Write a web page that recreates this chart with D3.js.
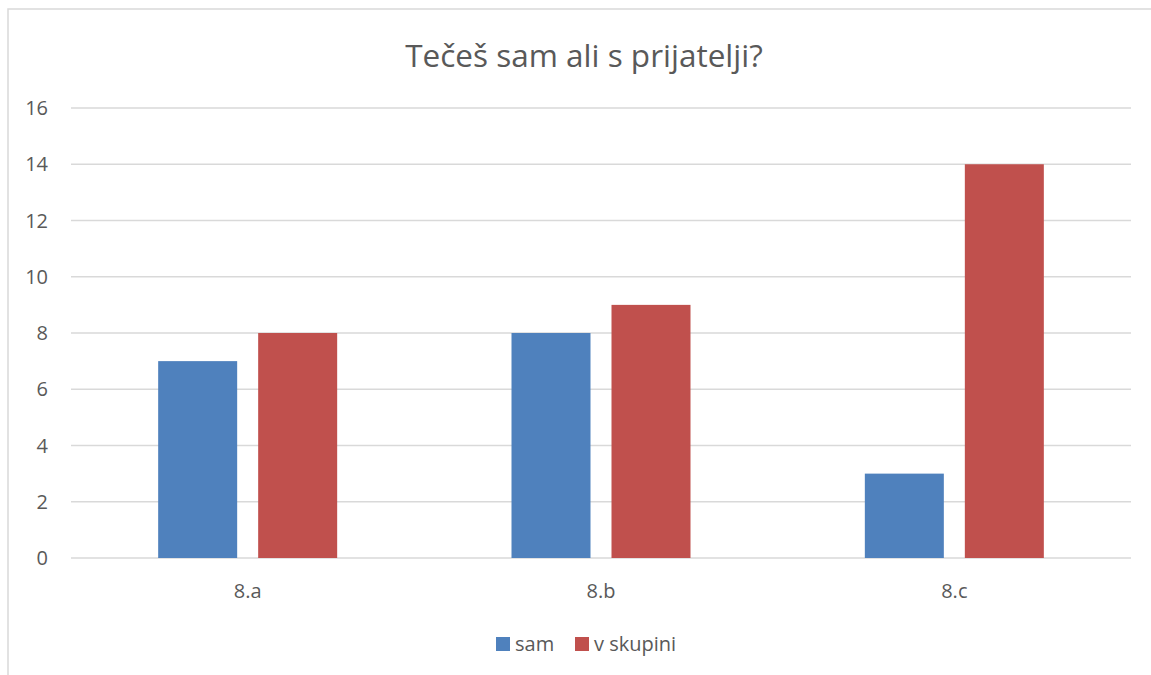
<!DOCTYPE html>
<html>
<head>
<meta charset="utf-8">
<script src="https://cdn.jsdelivr.net/npm/d3@7"></script>
<style>
  body { margin: 0; background: #fff; }
  text { font-family: "Open Sans", "Noto Sans", sans-serif; fill: #595959; }
</style>
</head>
<body>
<div id="chart"></div>
<script>
const categories = ["8.a", "8.b", "8.c"]
const seriesNames = ["sam", "v skupini"]
const samValues = [7, 8, 3]
const skupiniValues = [8, 9, 14]
const yTicks = [0, 2, 4, 6, 8, 10, 12, 14, 16]
const colors = ["#4F81BD", "#C0504D"]

const WIDTH = 1151, HEIGHT = 675
const PLOT = { LEFT: 71, RIGHT: 1131, TOP: 108, BOTTOM: 558 }

const svg = d3.select("#chart").append("svg")
  .attr("width", WIDTH)
  .attr("height", HEIGHT)

// chart frame (only left & top edges visible in the crop)
svg.append("rect")
  .attr("x", 8).attr("y", 9)
  .attr("width", WIDTH).attr("height", HEIGHT)
  .attr("fill", "none")
  .attr("stroke", "#d9d9d9")
  .attr("stroke-width", 1.5)

svg.append("text")
  .attr("x", 584).attr("y", 67)
  .attr("text-anchor", "middle")
  .attr("font-size", 31.5)
  .text("Tečeš sam ali s prijatelji?")

const x = d3.scaleBand()
  .domain(categories)
  .range([PLOT.LEFT, PLOT.RIGHT])

const y = d3.scaleLinear()
  .domain([0, 16])
  .range([PLOT.BOTTOM, PLOT.TOP])

// gridlines
svg.append("g")
  .selectAll("line")
  .data(yTicks)
  .join("line")
    .attr("x1", PLOT.LEFT).attr("x2", PLOT.RIGHT)
    .attr("y1", d => y(d)).attr("y2", d => y(d))
    .attr("stroke", "#d9d9d9")
    .attr("stroke-width", 1.3)

// y labels
svg.append("g")
  .selectAll("text")
  .data(yTicks)
  .join("text")
    .attr("x", 48)
    .attr("y", d => y(d))
    .attr("dy", "0.35em")
    .attr("text-anchor", "end")
    .attr("font-size", 20)
    .text(d => d)

const rows = categories.map((c, i) => ({ cat: c, vals: [samValues[i], skupiniValues[i]] }))

const groupW = 179
const sub = d3.scaleBand().domain([0, 1]).range([0, groupW]).paddingInner(0.21)

const groups = svg.append("g")
  .selectAll("g")
  .data(rows)
  .join("g")
    .attr("transform", d => `translate(${x(d.cat) + x.bandwidth() / 2 - groupW / 2}, 0)`)

groups.selectAll("rect")
  .data(d => d.vals.map((v, i) => ({ v, i })))
  .join("rect")
    .attr("x", d => sub(d.i))
    .attr("width", sub.bandwidth())
    .attr("y", d => y(d.v))
    .attr("height", d => y(0) - y(d.v))
    .attr("fill", d => colors[d.i])

// x labels
svg.append("g")
  .selectAll("text")
  .data(categories)
  .join("text")
    .attr("x", d => x(d) + x.bandwidth() / 2)
    .attr("y", 598)
    .attr("text-anchor", "middle")
    .attr("font-size", 20)
    .text(d => d)

// legend
const legendX = [496, 575]
const legend = svg.append("g")
  .selectAll("g")
  .data(seriesNames)
  .join("g")
    .attr("transform", (d, i) => `translate(${legendX[i]}, 637)`)
legend.append("rect")
  .attr("width", 14).attr("height", 14)
  .attr("fill", (d, i) => colors[i])
legend.append("text")
  .attr("x", 19).attr("y", 7)
  .attr("dy", "0.35em")
  .attr("font-size", 20)
  .text(d => d)
</script>
</body>
</html>
